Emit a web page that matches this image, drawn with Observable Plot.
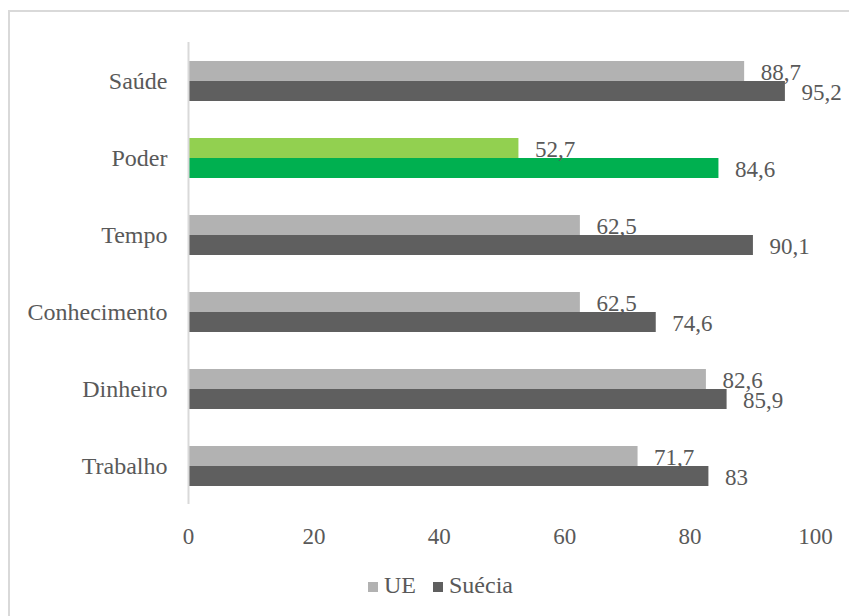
<!DOCTYPE html>
<html>
<head>
<meta charset="utf-8">
<script src="https://cdn.jsdelivr.net/npm/d3@7"></script>
<script src="https://cdn.jsdelivr.net/npm/@observablehq/plot@0.6"></script>
<style>
  html, body { margin: 0; padding: 0; background: #fff; overflow: hidden; width: 849px; height: 616px; }
  #frame { position: absolute; left: 8px; top: 10px; width: 900px; height: 700px; border: 2px solid #d9d9d9; box-sizing: border-box; }
  #chart { position: absolute; left: 0; top: 0; }
  #chart svg, #chart svg text { font-family: "Liberation Serif", Times, serif !important; }
  #legend { position: absolute; left: 0; top: 571px; width: 849px; height: 28px; font-family: "Liberation Serif", Times, serif; font-size: 24px; color: #595959; }
  .item { position: absolute; top: 0; line-height: 28px; }
  .sw { display: inline-block; width: 10px; height: 10px; margin-right: 6px; vertical-align: 1px; }
</style>
</head>
<body>
<div id="frame"></div>
<div id="chart"></div>
<div id="legend"></div>
<script>
const categories = ["Saúde", "Poder", "Tempo", "Conhecimento", "Dinheiro", "Trabalho"];
const seriesNames = ["UE", "Suécia"];
const ueValues = [88.7, 52.7, 62.5, 62.5, 82.6, 71.7];
const sueciaValues = [95.2, 84.6, 90.1, 74.6, 85.9, 83];
const xTicks = [0, 20, 40, 60, 80, 100];
const highlight = "Poder";
const colorKeys = ["UE", "Suécia", "UE (Poder)", "Suécia (Poder)"];
const colorValues = ["#b2b2b2", "#5f5f5f", "#92d050", "#00b050"];

const data = [];
categories.forEach((c, i) => {
  data.push({cat: c, series: "UE", value: ueValues[i]});
  data.push({cat: c, series: "Suécia", value: sueciaValues[i]});
});
const fillKey = d => d.cat === highlight ? `${d.series} (Poder)` : d.series;
const fmt = v => String(v).replace(".", ",");
const serif = "'Liberation Serif', Times, serif";

const plot = Plot.plot({
  width: 849,
  height: 560,
  marginLeft: 188,
  marginRight: 34,
  marginTop: 40,
  marginBottom: 54,
  style: {fontFamily: serif, color: "#595959", background: "transparent"},
  x: {domain: [0, 100], ticks: xTicks, tickSize: 0, tickPadding: 23, label: null},
  fy: {domain: categories, padding: 0, label: null},
  y: {domain: seriesNames, paddingInner: 0, paddingOuter: 0.92, axis: null},
  color: {domain: colorKeys, range: colorValues},
  marks: [
    Plot.axisX({ticks: xTicks, tickSize: 0, tickPadding: 23, fontSize: 23, label: null, anchor: "bottom", facetAnchor: "bottom"}),
    Plot.axisFy({anchor: "left", tickSize: 0, tickPadding: 21, fontSize: 24, label: null}),
    Plot.barX(data, {fy: "cat", y: "series", x: "value", fill: fillKey}),
    Plot.ruleX([0], {stroke: "#d9d9d9", strokeWidth: 2}),
    Plot.text(data, {fy: "cat", y: "series", x: "value", text: d => fmt(d.value), textAnchor: "start", dx: 16, dy: 1, fontSize: 23, fill: "#595959"})
  ]
});
document.getElementById("chart").appendChild(plot);

const legend = document.getElementById("legend");
const legendPos = [368, 433];
seriesNames.forEach((s, i) => {
  const item = document.createElement("span");
  item.className = "item";
  item.style.left = legendPos[i] + "px";
  const sw = document.createElement("span");
  sw.className = "sw";
  sw.style.background = colorValues[i];
  item.appendChild(sw);
  item.appendChild(document.createTextNode(s));
  legend.appendChild(item);
});
</script>
</body>
</html>
